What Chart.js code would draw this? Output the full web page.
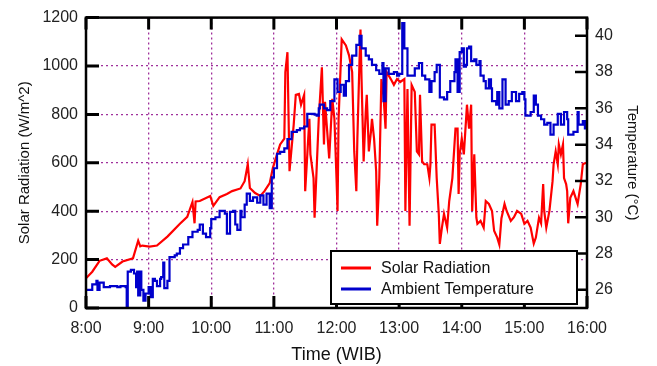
<!DOCTYPE html>
<html>
<head>
<meta charset="utf-8">
<script src="https://cdn.jsdelivr.net/npm/chart.js@4"></script>
<style>
  body { margin: 0; background: #fff; }
  canvas { display: block; }
</style>
</head>
<body>
<canvas id="myChart" width="657" height="366"></canvas>
<script>
// x values are minutes after 8:00
const timeLabels = ['8:00', '9:00', '10:00', '11:00', '12:00', '13:00', '14:00', '15:00', '16:00'];
const solarTicks = [0, 200, 400, 600, 800, 1000, 1200];
const tempTicks = [26, 28, 30, 32, 34, 36, 38, 40];

const solarTime = [0, 6, 13, 20, 25, 28, 35, 45, 50, 52, 54, 61, 68, 78, 90, 97, 102, 104, 105, 109,
  119, 122, 128, 135, 140, 148, 152, 155, 157, 162, 167, 171, 176, 179, 183, 186, 190, 191, 193, 194,
  195, 199, 201, 204, 206, 209, 210, 214, 215, 218, 219, 223, 226, 228, 229, 233, 236, 238, 240, 241,
  242, 245, 249, 252, 255, 257, 259, 260, 262, 263, 264, 266, 268, 269, 271, 273, 274, 276, 278, 279,
  281, 283, 285, 287, 288, 292, 295, 298, 301, 305, 306, 308, 310, 312, 315, 317, 319, 320, 322, 324,
  327, 329, 330, 331, 334, 336, 338, 339, 341, 343, 346, 348, 351, 354, 356, 357, 358, 360, 362, 364,
  365, 367, 369, 370, 372, 374, 375, 378, 381, 383, 386, 389, 391, 394, 396, 398, 401, 403, 407, 410,
  413, 417, 420, 423, 426, 429, 431, 434, 436, 438, 439, 441, 444, 447, 448, 450, 452, 453, 455, 457,
  458, 460, 461, 462, 464, 467, 471, 474, 476, 478, 480];
const solarValue = [123, 150, 195, 205, 180, 170, 192, 205, 278, 255, 258, 254, 258, 295, 348, 377, 438, 350, 440, 442,
  463, 422, 458, 471, 483, 494, 524, 594, 496, 475, 463, 483, 516, 578, 635, 676, 700, 975, 1057, 811,
  565, 758, 881, 885, 840, 881, 483, 782, 635, 537, 373, 782, 995, 676, 852, 618, 864, 782, 537, 401,
  782, 1110, 1085, 1044, 975, 647, 483, 700, 1016, 1151, 946, 606, 811, 881, 647, 729, 782, 700, 565, 340,
  537, 946, 881, 741, 975, 946, 922, 946, 934, 946, 401, 905, 340, 922, 893, 647, 635, 881, 606, 594,
  594, 537, 594, 758, 758, 537, 389, 265, 332, 389, 332, 442, 537, 741, 741, 471, 635, 700, 635, 770,
  840, 741, 840, 401, 635, 373, 348, 360, 332, 442, 430, 401, 319, 291, 262, 370, 430, 401, 360, 375,
  401, 389, 348, 360, 332, 266, 291, 373, 350, 512, 401, 332, 401, 524, 594, 647, 594, 676, 635, 676,
  537, 512, 483, 350, 455, 483, 430, 512, 594, 598, 600];

const tempTime = [0, 2, 6, 10, 11, 13, 17, 23, 30, 33, 38, 39, 40, 43, 46, 48, 49, 50, 52, 53,
  55, 57, 60, 62, 64, 66, 68, 71, 72, 74, 75, 78, 80, 85, 87, 90, 93, 98, 102, 107,
  109, 112, 115, 119, 120, 124, 128, 133, 135, 138, 141, 143, 145, 148, 149, 152, 154, 157, 160, 164,
  167, 170, 173, 176, 178, 180, 183, 186, 190, 193, 195, 197, 202, 205, 209, 212, 217, 219, 221, 223,
  224, 228, 231, 234, 238, 241, 244, 247, 249, 252, 255, 259, 262, 264, 268, 271, 274, 278, 281, 284,
  285, 287, 290, 295, 298, 300, 303, 305, 308, 312, 315, 319, 322, 325, 329, 331, 334, 336, 339, 343,
  346, 349, 353, 354, 356, 358, 360, 362, 364, 365, 367, 369, 372, 374, 377, 378, 381, 383, 386, 388,
  389, 393, 394, 396, 399, 402, 405, 408, 412, 415, 418, 420, 421, 423, 426, 429, 431, 433, 436, 439,
  442, 445, 448, 452, 455, 458, 461, 462, 466, 467, 471, 472, 476, 478, 480];
const tempValue = [26.0, 26.0, 26.3, 26.5, 26.0, 26.4, 26.15, 26.2, 26.15, 26.2, 26.15, 25.0, 27.0, 27.1, 26.9, 26.15, 27.0, 25.7, 27.0, 26.0,
  25.4, 25.8, 26.15, 25.6, 26.6, 26.5, 26.2, 26.6, 26.7, 27.5, 26.1, 26.5, 27.8, 27.9, 28.0, 28.3, 28.5, 28.9, 29.2, 29.3,
  29.6, 29.1, 28.9, 29.4, 29.9, 30.0, 30.35, 30.2, 29.1, 30.3, 30.35, 29.6, 29.3, 30.35, 30.0, 30.7, 31.3, 30.9, 31.1, 30.8,
  31.2, 30.7, 31.3, 30.5, 32.2, 32.7, 33.5, 33.6, 33.8, 34.3, 34.3, 34.7, 34.8, 34.9, 35.0, 35.7, 35.7, 35.65, 35.6, 36.0,
  36.2, 36.0, 35.9, 36.4, 37.6, 36.9, 37.3, 36.7, 37.5, 38.4, 38.9, 39.5, 40.0, 39.3, 38.9, 38.7, 38.4, 38.1, 37.9, 38.5,
  36.4, 38.2, 37.9, 38.0, 37.8, 37.9, 40.7, 39.3, 37.8, 37.8, 38.2, 38.5, 37.8, 37.6, 36.9, 37.5, 38.0, 38.4, 36.6, 36.5,
  36.9, 37.5, 38.0, 38.7, 36.9, 39.1, 39.3, 38.3, 38.4, 39.3, 39.4, 38.6, 38.7, 38.4, 38.6, 37.8, 37.5, 37.1, 37.6, 37.1,
  36.4, 36.2, 36.9, 36.0, 37.6, 36.2, 36.4, 36.9, 36.4, 36.8, 36.9, 36.5, 35.6, 35.6, 35.8, 36.7, 36.2, 35.6, 35.4, 35.1,
  35.2, 34.55, 35.1, 35.7, 35.1, 35.8, 35.4, 34.55, 34.55, 34.7, 35.8, 35.1, 35.3, 34.9, 34.9];

const FONT = 'Liberation Sans, Arial, sans-serif';
const GRID = '#a0309c';

// frame, inward tick marks and the boxed legend
const framePlugin = {
  id: 'frame',
  afterDatasetsDraw(chart) {
    const ctx = chart.ctx;
    const a = chart.chartArea;
    const x = chart.scales.x, y = chart.scales.y, y1 = chart.scales.y1;
    ctx.save();
    ctx.strokeStyle = '#000';
    ctx.lineWidth = 2.5;
    ctx.strokeRect(a.left, a.top, a.right - a.left, a.bottom - a.top);

    ctx.lineWidth = 3;
    ctx.beginPath();
    solarTicks.forEach(v => {
      const py = y.getPixelForValue(v);
      ctx.moveTo(a.left, py); ctx.lineTo(a.left + 13, py);
    });
    timeLabels.forEach((l, i) => {
      const px = x.getPixelForValue(i * 60);
      ctx.moveTo(px, a.top); ctx.lineTo(px, a.top + 12);
      ctx.moveTo(px, a.bottom); ctx.lineTo(px, a.bottom - 12);
    });
    ctx.stroke();
    ctx.lineWidth = 2.5;
    ctx.beginPath();
    tempTicks.forEach(v => {
      const py = y1.getPixelForValue(v);
      ctx.moveTo(a.right, py); ctx.lineTo(a.right - 12, py);
    });
    ctx.stroke();

    // legend
    const w = 246, h = 53;
    const lx = a.right - 10 - w, ly = a.bottom - 4 - h;
    ctx.fillStyle = '#fff';
    ctx.fillRect(lx, ly, w, h);
    ctx.lineWidth = 2;
    ctx.strokeRect(lx, ly, w, h);
    const items = chart.data.datasets;
    ctx.font = '16px ' + FONT;
    ctx.textBaseline = 'middle';
    items.forEach((ds, i) => {
      const yy = ly + 17 + i * 21;
      ctx.strokeStyle = ds.borderColor;
      ctx.lineWidth = 3;
      ctx.beginPath();
      ctx.moveTo(lx + 10, yy); ctx.lineTo(lx + 40, yy);
      ctx.stroke();
      ctx.fillStyle = '#111';
      ctx.fillText(ds.label, lx + 50, yy + 1);
    });
    ctx.restore();
  }
};

const ctx = document.getElementById('myChart');
new Chart(ctx, {
  type: 'line',
  data: {
    datasets: [
      {
        label: 'Solar Radiation',
        data: solarTime.map((t, i) => ({ x: t, y: solarValue[i] })),
        yAxisID: 'y',
        borderColor: '#ff0000',
        borderWidth: 2.2,
        pointRadius: 0,
        tension: 0,
        order: 2
      },
      {
        label: 'Ambient Temperature',
        data: tempTime.map((t, i) => ({ x: t, y: tempValue[i] })),
        yAxisID: 'y1',
        borderColor: '#0000cc',
        borderWidth: 2.2,
        pointRadius: 0,
        stepped: true,
        order: 1
      }
    ]
  },
  options: {
    responsive: false,
    animation: false,
    layout: { padding: { top: 15, left: 0, right: 0, bottom: 0 } },
    plugins: { legend: { display: false }, tooltip: { enabled: false } },
    scales: {
      x: {
        type: 'linear',
        min: 0,
        max: 480,
        afterFit: s => { s.height = 58; },
        ticks: {
          stepSize: 60,
          padding: 11,
          color: '#222',
          font: { family: FONT, size: 16 },
          maxRotation: 0,
          callback: v => timeLabels[v / 60]
        },
        grid: { color: GRID, lineWidth: 1.3, drawTicks: false },
        border: { display: false, dash: [2, 3] },
        title: {
          display: true,
          text: 'Time (WIB)',
          color: '#111',
          font: { family: FONT, size: 18 },
          padding: { top: 2, bottom: 0 }
        }
      },
      y: {
        position: 'left',
        min: 0,
        max: 1200,
        afterFit: s => { s.width = 86; },
        ticks: {
          stepSize: 200,
          padding: 8,
          color: '#222',
          font: { family: FONT, size: 16 },
          callback: v => String(v)
        },
        grid: { color: GRID, lineWidth: 1.3, drawTicks: false },
        border: { display: false, dash: [2, 3] },
        title: {
          display: true,
          text: 'Solar Radiation (W/m^2)',
          color: '#111',
          font: { family: FONT, size: 15 },
          padding: { top: 16, bottom: 0 }
        }
      },
      y1: {
        position: 'right',
        min: 25,
        max: 41,
        afterFit: s => { s.width = 70; },
        afterBuildTicks: s => { s.ticks = s.ticks.filter(t => tempTicks.includes(t.value)); },
        ticks: {
          stepSize: 1,
          padding: 8,
          color: '#222',
          font: { family: FONT, size: 16 }
        },
        grid: { display: false, drawTicks: false },
        border: { display: false },
        title: {
          display: true,
          text: 'Temperature (°C)',
          color: '#111',
          font: { family: FONT, size: 15 },
          padding: { top: 16, bottom: 0 }
        }
      }
    }
  },
  plugins: [framePlugin]
});
</script>
</body>
</html>
